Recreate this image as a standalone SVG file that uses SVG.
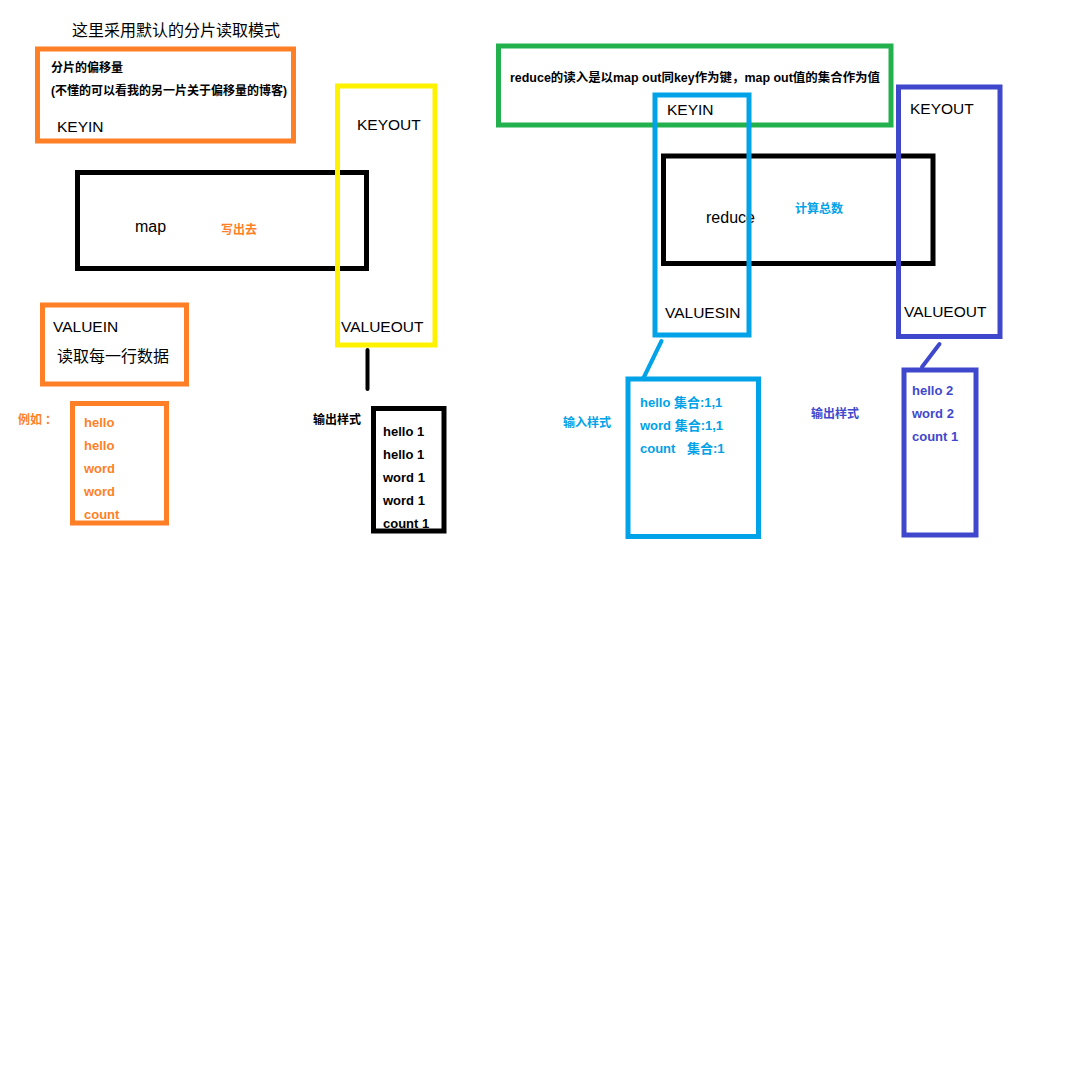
<svg xmlns="http://www.w3.org/2000/svg" width="1077" height="1086" viewBox="0 0 1077 1086">
  <style>
    .box { fill: none; stroke-width: 5; }
    .orange { stroke: #ff7f27; }
    .yellow { stroke: #fff200; }
    .black { stroke: #000000; }
    .green { stroke: #22b14c; }
    .blue { stroke: #00a2e8; }
    .purple { stroke: #3f48cc; }
    text { font-family: "Liberation Sans", "Noto Sans CJK SC", sans-serif; }
    .lbl { font-size: 15.5px; fill: #000; }
    .cjk { font-size: 16px; fill: #000; }
    .note { font-size: 12px; font-weight: bold; }
    .item { font-size: 13px; font-weight: bold; }
    .t-orange { fill: #ff7f27; }
    .t-blue { fill: #00a2e8; }
    .t-purple { fill: #3f48cc; }
    .t-black { fill: #000; }
    .link { fill: none; stroke-width: 4; stroke-linecap: round; }
  </style>
  <rect width="1077" height="1086" fill="#ffffff"/>

  <text id="title" class="cjk" x="72" y="36">这里采用默认的分片读取模式</text>

  <!-- map side -->
  <g id="keyin-map">
    <rect class="box orange" x="37.5" y="49" width="256" height="92"/>
    <text class="note t-black" x="51" y="72">分片的偏移量</text>
    <text class="note t-black" x="51" y="95">(不懂的可以看我的另一片关于偏移量的博客)</text>
    <text class="lbl" x="57" y="132">KEYIN</text>
  </g>

  <g id="map">
    <rect class="box black" x="77.5" y="172.5" width="289" height="96"/>
    <text class="cjk" x="135" y="232">map</text>
    <text class="note t-orange" x="221" y="234">写出去</text>
  </g>

  <g id="keyout-map">
    <rect class="box yellow" x="337.5" y="86" width="97.5" height="259"/>
    <text class="lbl" x="357" y="130">KEYOUT</text>
    <text class="lbl" x="341" y="332">VALUEOUT</text>
  </g>

  <g id="valuein-map">
    <rect class="box orange" x="42.5" y="305" width="144" height="79"/>
    <text class="lbl" x="53" y="332">VALUEIN</text>
    <text class="cjk" x="57" y="362">读取每一行数据</text>
  </g>

  <text id="example-label" class="note t-orange" x="18" y="424">例如<tspan x="45">：</tspan></text>

  <g id="map-input">
    <text class="item t-orange" x="84" y="427">hello</text>
    <text class="item t-orange" x="84" y="450">hello</text>
    <text class="item t-orange" x="84" y="473">word</text>
    <text class="item t-orange" x="84" y="496">word</text>
    <text class="item t-orange" x="84" y="519">count</text>
    <rect class="box orange" x="72.5" y="403.5" width="94" height="119.5"/>
  </g>

  <text id="map-output-label" class="note t-black" x="313" y="424">输出样式</text>

  <g id="map-output">
    <text class="item t-black" x="383" y="436">hello 1</text>
    <text class="item t-black" x="383" y="459">hello 1</text>
    <text class="item t-black" x="383" y="482">word 1</text>
    <text class="item t-black" x="383" y="505">word 1</text>
    <text class="item t-black" x="383" y="528">count 1</text>
    <rect class="box black" x="373.5" y="408.5" width="70.5" height="122.5"/>
  </g>

  <!-- reduce side -->
  <g id="reduce-note">
    <rect class="box green" x="498.5" y="46" width="392.5" height="79"/>
    <text class="note t-black" x="510" y="82" textLength="370" lengthAdjust="spacingAndGlyphs">reduce的读入是以map out同key作为键，map out值的集合作为值</text>
  </g>

  <g id="reduce">
    <rect class="box black" x="663.5" y="156" width="269.5" height="107.5"/>
    <text class="cjk" x="706" y="223">reduce</text>
    <text class="note t-blue" x="795" y="213">计算总数</text>
  </g>

  <g id="keyin-reduce">
    <rect class="box blue" x="655" y="95" width="94" height="240"/>
    <text class="lbl" x="667" y="115">KEYIN</text>
    <text class="lbl" x="665" y="318">VALUESIN</text>
  </g>

  <g id="keyout-reduce">
    <rect class="box purple" x="898.5" y="87" width="101.5" height="249.5"/>
    <text class="lbl" x="910" y="114">KEYOUT</text>
    <text class="lbl" x="904" y="317">VALUEOUT</text>
  </g>

  <text id="reduce-input-label" class="note t-blue" x="563" y="427">输入样式</text>

  <g id="reduce-input">
    <rect class="box blue" x="628" y="379" width="130.5" height="157.5"/>
    <text class="item t-blue" x="640" y="407">hello 集合:1,1</text>
    <text class="item t-blue" x="640" y="430">word 集合:1,1</text>
    <text class="item t-blue" x="640" y="453">count</text>
    <text class="item t-blue" x="687" y="453">集合:1</text>
  </g>

  <text id="reduce-output-label" class="note t-purple" x="811" y="418">输出样式</text>

  <g id="reduce-output">
    <rect class="box purple" x="904" y="370" width="72" height="165"/>
    <text class="item t-purple" x="912" y="395">hello 2</text>
    <text class="item t-purple" x="912" y="418">word 2</text>
    <text class="item t-purple" x="912" y="441">count 1</text>
  </g>

  <!-- connectors -->
  <g id="connectors">
    <line class="link black" x1="367.5" y1="350" x2="367.5" y2="389"/>
    <line class="link blue" x1="661.5" y1="341" x2="643" y2="379"/>
    <line class="link purple" x1="939.5" y1="344" x2="922" y2="367"/>
  </g>
</svg>
